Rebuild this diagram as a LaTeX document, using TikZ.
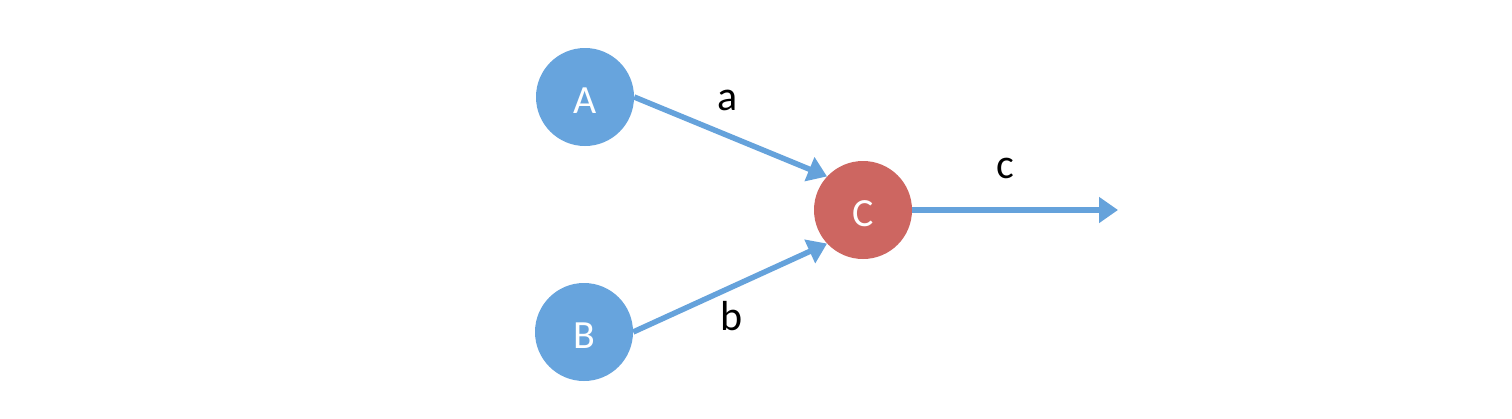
\documentclass[tikz,border=0pt]{standalone}
\usepackage{fontspec}
\setmainfont{Carlito}
\usetikzlibrary{arrows.meta}
\definecolor{nodeblue}{HTML}{67A4DD}
\definecolor{nodered}{HTML}{CD6661}
\definecolor{edgeblue}{HTML}{65A2DB}
\newcommand{\lowtext}[1]{\raisebox{-4pt}[\height][\depth]{#1}}
\begin{document}
\begin{tikzpicture}[x=1pt,y=1pt,
  circ/.style={circle,minimum size=98pt,inner sep=0pt,text=white,font=\fontsize{40}{48}\selectfont},
  conn/.style={draw=edgeblue,line width=5.5pt,-{Triangle[length=19pt,width=25pt]}},
  lbl/.style={inner sep=0pt,font=\fontsize{42}{50}\selectfont,text=black}]
\useasboundingbox[fill=white] (0,0) rectangle (1512,-418);
\node[circ,fill=nodeblue] (A) at (585,-97) {\lowtext{A}};
\node[circ,fill=nodeblue] (B) at (584,-332) {\lowtext{B}};
\node[circ,fill=nodered] (C) at (863,-210) {\lowtext{C}};
\coordinate (out) at (1118,-210);
\draw[conn] (A.east) -- (C.137);
\draw[conn] (B.east) -- (C.223);
\draw[conn] (C.east) -- (out);
\node[lbl] (la) at (728,-100) {a};
\node[lbl] (lb) at (732,-316) {b};
\node[lbl] (lc) at (1005,-168) {c};
\end{tikzpicture}
\end{document}
